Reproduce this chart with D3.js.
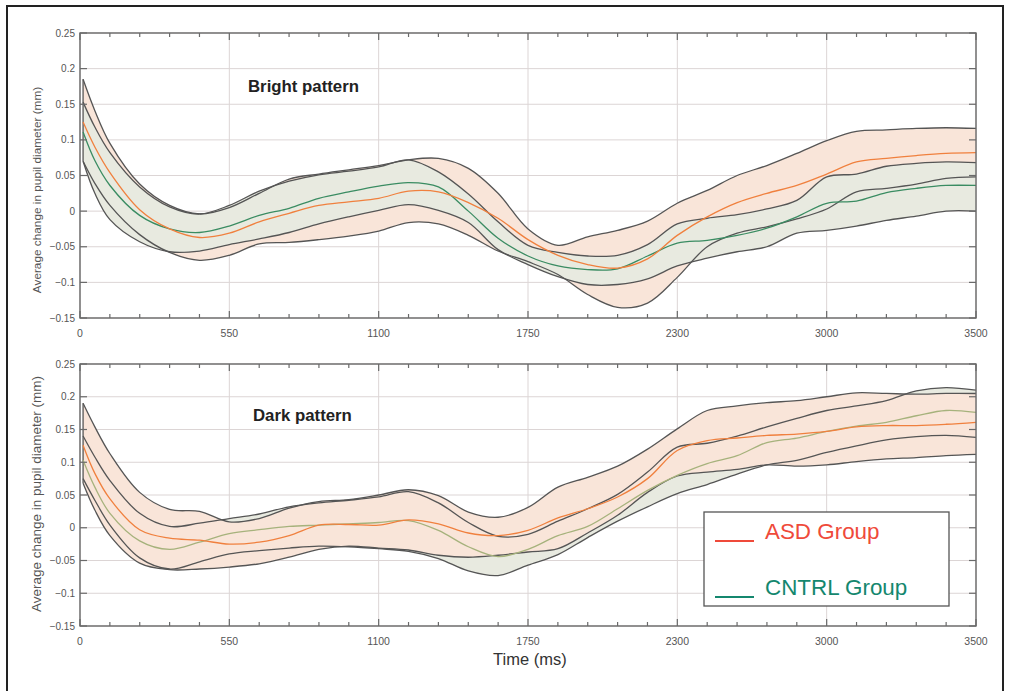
<!DOCTYPE html>
<html>
<head>
<meta charset="utf-8">
<script src="https://cdnjs.cloudflare.com/ajax/libs/d3/7.8.5/d3.min.js"></script>
<style>
  body { margin: 0; background: #fff; }
  svg { font-family: Arial, "Liberation Sans", sans-serif; }
</style>
</head>
<body>
<svg id="pupil_chart" width="1010" height="691"></svg>
<script>
// time samples (ms), shared by every series
const times = [12, 58, 117, 233, 350, 467, 583, 700, 817, 933, 1050, 1167, 1283, 1400, 1517, 1633,
    1750, 1867, 1983, 2100, 2217, 2333, 2450, 2567, 2683, 2800, 2917, 3033, 3150, 3267, 3383, 3500];

const xTickLabels = ["0", "550", "1100", "1750", "2300", "3000", "3500"];
const yTickValues = [-0.15, -0.1, -0.05, 0, 0.05, 0.1, 0.15, 0.2, 0.25];

// Bright pattern
const brightAsdMean = [0.125, 0.09, 0.054, 0.002, -0.025, -0.037, -0.031, -0.015, -0.003, 0.008, 0.013, 0.018, 0.028, 0.027, 0.012, -0.01,
    -0.04, -0.062, -0.075, -0.08, -0.067, -0.034, -0.008, 0.012, 0.025, 0.036, 0.052, 0.069, 0.074, 0.078, 0.081, 0.082];
const brightAsdHi = [0.185, 0.141, 0.095, 0.038, 0.008, -0.004, 0.005, 0.025, 0.045, 0.052, 0.058, 0.064, 0.072, 0.074, 0.06, 0.025,
    -0.025, -0.048, -0.036, -0.027, -0.014, 0.011, 0.029, 0.05, 0.064, 0.081, 0.099, 0.112, 0.114, 0.116, 0.117, 0.116];
const brightAsdLo = [0.07, 0.039, 0.008, -0.033, -0.058, -0.069, -0.062, -0.046, -0.044, -0.04, -0.035, -0.028, -0.016, -0.018, -0.034, -0.056,
    -0.071, -0.089, -0.117, -0.135, -0.129, -0.093, -0.05, -0.031, -0.022, -0.011, 0.003, 0.027, 0.032, 0.038, 0.046, 0.048];
const brightCtlMean = [0.111, 0.071, 0.036, -0.006, -0.025, -0.03, -0.021, -0.006, 0.004, 0.018, 0.027, 0.035, 0.04, 0.034, 0.0, -0.038,
    -0.063, -0.077, -0.082, -0.081, -0.063, -0.045, -0.041, -0.034, -0.024, -0.008, 0.011, 0.014, 0.026, 0.032, 0.036, 0.036];
const brightCtlHi = [0.153, 0.118, 0.082, 0.034, 0.006, -0.004, 0.008, 0.028, 0.042, 0.051, 0.056, 0.062, 0.072, 0.055, 0.024, -0.015,
    -0.048, -0.058, -0.063, -0.062, -0.047, -0.018, -0.01, -0.005, 0.003, 0.015, 0.048, 0.052, 0.063, 0.067, 0.069, 0.068];
const brightCtlLo = [0.07, 0.025, -0.012, -0.043, -0.057, -0.056, -0.047, -0.039, -0.03, -0.018, -0.008, 0.001, 0.009, 0.001, -0.016, -0.054,
    -0.075, -0.092, -0.103, -0.103, -0.095, -0.077, -0.066, -0.057, -0.05, -0.031, -0.027, -0.021, -0.013, -0.007, 0.0, 0.0];

// Dark pattern
const darkAsdMean = [0.126, 0.083, 0.044, -0.003, -0.016, -0.019, -0.025, -0.022, -0.012, 0.004, 0.005, 0.004, 0.012, 0.006, -0.008, -0.012,
    -0.004, 0.015, 0.029, 0.047, 0.075, 0.118, 0.133, 0.137, 0.141, 0.143, 0.147, 0.154, 0.156, 0.156, 0.158, 0.161];
const darkAsdHi = [0.19, 0.154, 0.113, 0.054, 0.028, 0.025, 0.009, 0.014, 0.03, 0.04, 0.043, 0.05, 0.058, 0.049, 0.024, 0.016,
    0.031, 0.062, 0.077, 0.094, 0.12, 0.151, 0.179, 0.186, 0.191, 0.194, 0.2, 0.206, 0.205, 0.204, 0.205, 0.205];
const darkAsdLo = [0.068, 0.027, -0.012, -0.054, -0.064, -0.063, -0.06, -0.055, -0.045, -0.033, -0.028, -0.031, -0.034, -0.042, -0.045, -0.042,
    -0.037, -0.032, -0.008, 0.019, 0.054, 0.079, 0.085, 0.089, 0.096, 0.094, 0.096, 0.101, 0.105, 0.107, 0.11, 0.112];
const darkCtlMean = [0.103, 0.062, 0.022, -0.02, -0.033, -0.022, -0.009, -0.003, 0.002, 0.004, 0.006, 0.008, 0.011, -0.004, -0.029, -0.044,
    -0.033, -0.012, 0.002, 0.029, 0.057, 0.08, 0.098, 0.11, 0.13, 0.137, 0.147, 0.155, 0.161, 0.171, 0.179, 0.176];
const darkCtlHi = [0.14, 0.108, 0.072, 0.022, 0.002, 0.007, 0.014, 0.021, 0.032, 0.038, 0.042, 0.047, 0.055, 0.038, 0.008, -0.013,
    -0.01, 0.01, 0.029, 0.051, 0.085, 0.123, 0.129, 0.14, 0.154, 0.167, 0.179, 0.186, 0.194, 0.209, 0.214, 0.21];
const darkCtlLo = [0.075, 0.042, 0.004, -0.046, -0.063, -0.052, -0.04, -0.035, -0.031, -0.028, -0.029, -0.032, -0.036, -0.047, -0.066, -0.073,
    -0.057, -0.041, -0.015, 0.01, 0.032, 0.052, 0.066, 0.082, 0.096, 0.103, 0.115, 0.125, 0.134, 0.139, 0.141, 0.138];

const legendLabels = ["ASD Group", "CNTRL Group"];

const svg = d3.select("#pupil_chart");

// figure frame
svg.append("rect")
    .attr("x", 7).attr("y", 6)
    .attr("width", 996).attr("height", 700)
    .style("fill", "none")
    .style("stroke", "#222")
    .style("stroke-width", 2);

function drawPanel(p) {
    const x = d3.scaleLinear().domain([0, 3500]).range([80, 976]);
    const y = d3.scaleLinear().domain([-0.15, 0.25]).range([p.bottom, p.top]);
    const g = svg.append("g");

    const majorX = xTickLabels.map((d, i) => i * 3500 / (xTickLabels.length - 1));
    const minorX = d3.range(0, 31).map(i => i * 3500 / 30);

    // grid
    g.selectAll(".vgrid").data(majorX).join("line")
        .attr("x1", d => x(d)).attr("x2", d => x(d))
        .attr("y1", p.top).attr("y2", p.bottom)
        .style("stroke", "#dcd5d5").style("stroke-width", 1);
    g.selectAll(".hgrid").data(yTickValues).join("line")
        .attr("x1", 80).attr("x2", 976)
        .attr("y1", d => y(d)).attr("y2", d => y(d))
        .style("stroke", "#dcd5d5").style("stroke-width", 1);

    const clipId = "clip" + p.id;
    svg.append("clipPath").attr("id", clipId)
        .append("rect").attr("x", 80).attr("y", p.top)
        .attr("width", 896).attr("height", p.bottom - p.top);

    const plot = g.append("g").attr("clip-path", `url(#${clipId})`);
    const curve = d3.curveCatmullRom.alpha(0.5);

    const band = (lo, hi) => d3.area()
        .x((d, i) => x(times[i]))
        .y0((d, i) => y(lo[i]))
        .y1((d, i) => y(hi[i]))
        .curve(curve)(times);
    const line = vals => d3.line()
        .x((d, i) => x(times[i]))
        .y((d, i) => y(vals[i]))
        .curve(curve)(times);

    const asdBand = {lo: p.asdLo, hi: p.asdHi, fill: "#f9e5d9"};
    const ctlBand = {lo: p.ctlLo, hi: p.ctlHi, fill: "#e8eae0"};
    const bands = p.asdOnTop ? [ctlBand, asdBand] : [asdBand, ctlBand];

    plot.selectAll(".band").data(bands).join("path")
        .attr("d", d => band(d.lo, d.hi))
        .style("fill", d => d.fill)
        .style("stroke", "none");

    // left edge of the bands
    const startHi = Math.max(p.asdHi[0], p.ctlHi[0]);
    const startLo = Math.min(p.asdLo[0], p.ctlLo[0]);
    plot.append("line")
        .attr("x1", x(times[0])).attr("x2", x(times[0]))
        .attr("y1", y(startHi)).attr("y2", y(startLo))
        .style("stroke", "#555").style("stroke-width", 1.3);

    plot.selectAll(".bound").data([p.asdHi, p.asdLo, p.ctlHi, p.ctlLo]).join("path")
        .attr("d", d => line(d))
        .style("fill", "none")
        .style("stroke", "#555")
        .style("stroke-width", 1.3);

    plot.selectAll(".mean").data([{v: p.ctlMean, c: p.ctlColor}, {v: p.asdMean, c: "#f0803e"}]).join("path")
        .attr("d", d => line(d.v))
        .style("fill", "none")
        .style("stroke", d => d.c)
        .style("stroke-width", 1.3);

    // box
    g.append("rect")
        .attr("x", 80).attr("y", p.top)
        .attr("width", 896).attr("height", p.bottom - p.top)
        .style("fill", "none").style("stroke", "#6a6a6a").style("stroke-width", 1.4);

    // inward ticks
    const isMajor = d => majorX.some(m => Math.abs(m - d) < 1);
    [p.top, p.bottom].forEach((edge, k) => {
        const dir = k === 0 ? 1 : -1;
        g.selectAll(".xt" + k).data(minorX).join("line")
            .attr("x1", d => x(d)).attr("x2", d => x(d))
            .attr("y1", edge).attr("y2", d => edge + dir * (isMajor(d) ? 7 : 4))
            .style("stroke", "#6a6a6a").style("stroke-width", 1.2);
    });
    [80, 976].forEach((edge, k) => {
        const dir = k === 0 ? 1 : -1;
        g.selectAll(".yt" + k).data(yTickValues).join("line")
            .attr("x1", edge).attr("x2", edge + dir * 7)
            .attr("y1", d => y(d)).attr("y2", d => y(d))
            .style("stroke", "#6a6a6a").style("stroke-width", 1.2);
    });

    // tick labels
    g.selectAll(".ylab").data(yTickValues).join("text")
        .attr("x", 75).attr("y", d => y(d))
        .attr("dy", "0.35em")
        .style("text-anchor", "end")
        .style("font-size", "10px")
        .style("fill", "#555")
        .text(d => d === 0 ? "0" : d3.format("")(+d.toFixed(2)));
    g.selectAll(".xlab").data(majorX).join("text")
        .attr("x", d => x(d)).attr("y", p.bottom + 15)
        .attr("dy", "0.35em")
        .style("text-anchor", "middle")
        .style("font-size", "10.5px")
        .style("fill", "#555")
        .text((d, i) => xTickLabels[i]);

    // axis title
    g.append("text")
        .attr("transform", `translate(${p.labelX},${p.labelY}) rotate(-90)`)
        .attr("dy", "0.35em")
        .style("text-anchor", "middle")
        .style("font-size", p.labelSize + "px")
        .style("fill", "#555")
        .text("Average change in pupil diameter (mm)");

    g.append("text")
        .attr("x", p.titleX).attr("y", p.titleY)
        .style("font-size", "16.8px")
        .style("font-weight", "bold")
        .style("fill", "#222")
        .text(p.title);
}

drawPanel({
    id: 1, top: 33, bottom: 318, title: "Bright pattern", titleX: 248, titleY: 92,
    labelX: 37, labelY: 190, labelSize: 11.8, asdOnTop: false, ctlColor: "#3a8c62",
    asdMean: brightAsdMean, asdHi: brightAsdHi, asdLo: brightAsdLo,
    ctlMean: brightCtlMean, ctlHi: brightCtlHi, ctlLo: brightCtlLo
});
drawPanel({
    id: 2, top: 364, bottom: 626, title: "Dark pattern", titleX: 253, titleY: 421,
    labelX: 36, labelY: 494, labelSize: 13.5, asdOnTop: true, ctlColor: "#a6b27c",
    asdMean: darkAsdMean, asdHi: darkAsdHi, asdLo: darkAsdLo,
    ctlMean: darkCtlMean, ctlHi: darkCtlHi, ctlLo: darkCtlLo
});

svg.append("text")
    .attr("x", 493).attr("y", 665)
    .style("font-size", "16.5px")
    .style("fill", "#333")
    .text("Time (ms)");

// legend
const legend = svg.append("g");
legend.append("rect")
    .attr("x", 704).attr("y", 512)
    .attr("width", 245).attr("height", 94)
    .style("fill", "#fff").style("stroke", "#555").style("stroke-width", 1.3);
const legendColors = ["#ef4a3a", "#14876e"];
legend.selectAll("line").data(legendLabels).join("line")
    .attr("x1", 715).attr("x2", 754)
    .attr("y1", (d, i) => 541 + i * 56).attr("y2", (d, i) => 541 + i * 56)
    .style("stroke", (d, i) => legendColors[i]).style("stroke-width", 2);
legend.selectAll("text").data(legendLabels).join("text")
    .attr("x", 765)
    .attr("y", (d, i) => 539 + i * 56)
    .style("font-size", "22.4px")
    .style("fill", (d, i) => legendColors[i])
    .text(d => d);
</script>
</body>
</html>
